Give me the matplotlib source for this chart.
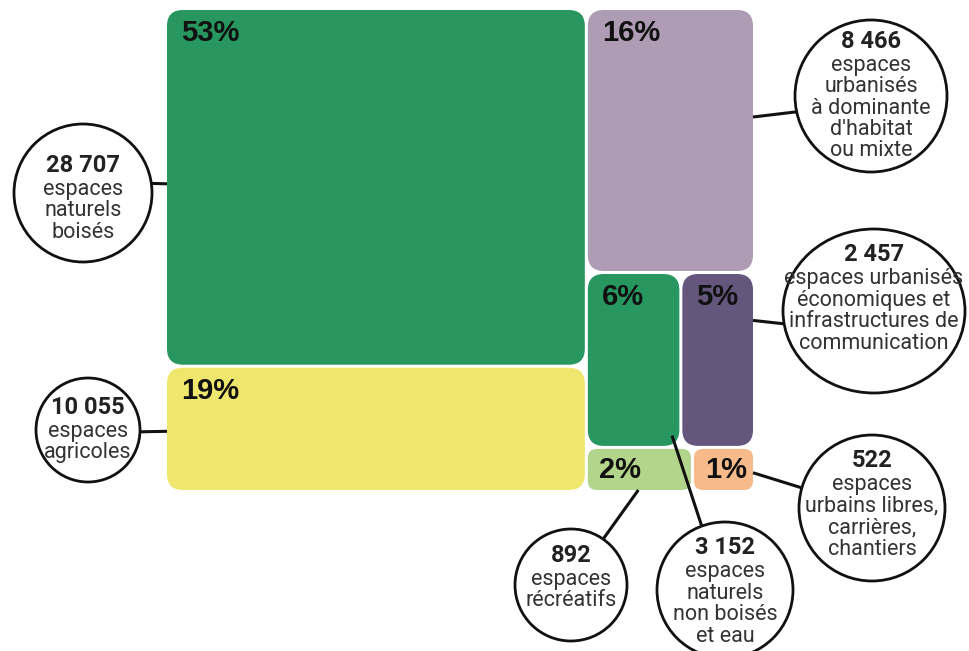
import matplotlib.pyplot as plt
from matplotlib.patches import FancyBboxPatch, Ellipse
import numpy as np

# Data (hectares by land-use category)
values = [28707, 10055, 8466, 3152, 2457, 892, 522]
descriptions = [
    "espaces\nnaturels\nboisés",
    "espaces\nagricoles",
    "espaces\nurbanisés\nà dominante\nd'habitat\nou mixte",
    "espaces\nnaturels\nnon boisés\net eau",
    "espaces urbanisés\néconomiques et\ninfrastructures de\ncommunication",
    "espaces\nrécréatifs",
    "espaces\nurbains libres,\ncarrières,\nchantiers",
]
colors = ["#27975f", "#efe76d", "#ae9bb4", "#27975f", "#65567e", "#b3d48b", "#f7bb8b"]

FONT = ["Roboto", "DejaVu Sans"]
PCT_FONT = ["Liberation Sans", "DejaVu Sans"]

# -------------------
# Treemap layout (slice and dice)
# -------------------
X0, Y0, W, H = 165.5, 8.5, 589.0, 483.0
GAP = 3.0
total = sum(values)
rects = [None] * len(values)

wl = W * (values[0] + values[1]) / total
h0 = H * values[0] / (values[0] + values[1])
rects[0] = (X0, Y0, wl, h0)
rects[1] = (X0, Y0 + h0, wl, H - h0)

xr, wr = X0 + wl, W - wl
rsum = sum(values[2:])
h2 = H * values[2] / rsum
rects[2] = (xr, Y0, wr, h2)

rest_h = H - h2
rest_sum = sum(values[3:])
row1 = values[3] + values[4]
hr1 = rest_h * row1 / rest_sum
w3 = wr * values[3] / row1
rects[3] = (xr, Y0 + h2, w3, hr1)
rects[4] = (xr + w3, Y0 + h2, wr - w3, hr1)
row2 = values[5] + values[6]
w5 = wr * values[5] / row2
rects[5] = (xr, Y0 + h2 + hr1, w5, rest_h - hr1)
rects[6] = (xr + w5, Y0 + h2 + hr1, wr - w5, rest_h - hr1)

# circle callouts: cx, cy, width, height, anchor fx, anchor fy, angle on circle, text shift
callouts = [
    (83, 193, 138, 138, 0.0, 0.49, -8, 6),
    (88, 430, 104, 104, 0.0, 0.52, 2, 0),
    (871, 96, 152, 152, 1.0, 0.41, 168, 0),
    (725, 590, 136, 136, 0.92, 0.94, -110, 2),
    (874, 311, 182, 164, 1.0, 0.27, 171, -12),
    (571, 585, 112, 112, 0.49, 1.0, -55, -7),
    (872, 508, 146, 146, 1.0, 0.58, 196, -3),
]

fig = plt.figure(figsize=(9.69, 6.51), dpi=100)
ax = fig.add_axes([0, 0, 1, 1])
ax.set_xlim(0, 969)
ax.set_ylim(651, 0)
ax.axis("off")

for i, (x, y, w, h) in enumerate(rects):
    x, y, w, h = x + GAP / 2, y + GAP / 2, w - GAP, h - GAP
    rad = 16 if min(w, h) > 60 else 9
    box = FancyBboxPatch((x, y), w, h, boxstyle=f"round,pad=0,rounding_size={rad}",
                         facecolor=colors[i], edgecolor="none", zorder=1)
    ax.add_patch(box)
    pct = f"{round(100 * values[i] / total)}%"
    if h > 60:
        ax.text(x + 14, y + 9, pct, fontsize=21, fontweight="bold", family=PCT_FONT,
                color="#111111", va="top", ha="left", zorder=2)
    else:
        ax.text(x + 11, y + h / 2 + 1, pct, fontsize=21, fontweight="bold", family=PCT_FONT,
                color="#111111", va="center", ha="left", zorder=2)

for i, (cx, cy, cw, ch, fx, fy, ang, tdy) in enumerate(callouts):
    x, y, w, h = rects[i]
    x, y, w, h = x + GAP / 2, y + GAP / 2, w - GAP, h - GAP
    ax0, ay0 = x + fx * w, y + fy * h
    a = np.deg2rad(ang)
    ex, ey = cx + cw / 2 * np.cos(a), cy + ch / 2 * np.sin(a)
    ax.plot([ax0, ex], [ay0, ey], color="#111111", lw=2.2, zorder=3, solid_capstyle="butt")
    ax.add_patch(Ellipse((cx, cy), cw, ch, facecolor="white", edgecolor="#111111",
                         lw=2.0, zorder=4))

    lines = descriptions[i].split("\n")
    block = 24 + (len(lines) - 1) * 21.5
    ny = cy - block / 2 + tdy
    number = f"{values[i]:,}".replace(",", " ")
    ax.text(cx, ny, number, fontsize=17, fontweight="bold", family=FONT,
            color="#222222", ha="center", va="center", zorder=5)
    for k, line in enumerate(lines):
        ax.text(cx, ny + 24 + k * 21.5, line, fontsize=15.5, family=FONT,
                color="#333333", ha="center", va="center", zorder=5)

plt.savefig("out.png", dpi=100)
